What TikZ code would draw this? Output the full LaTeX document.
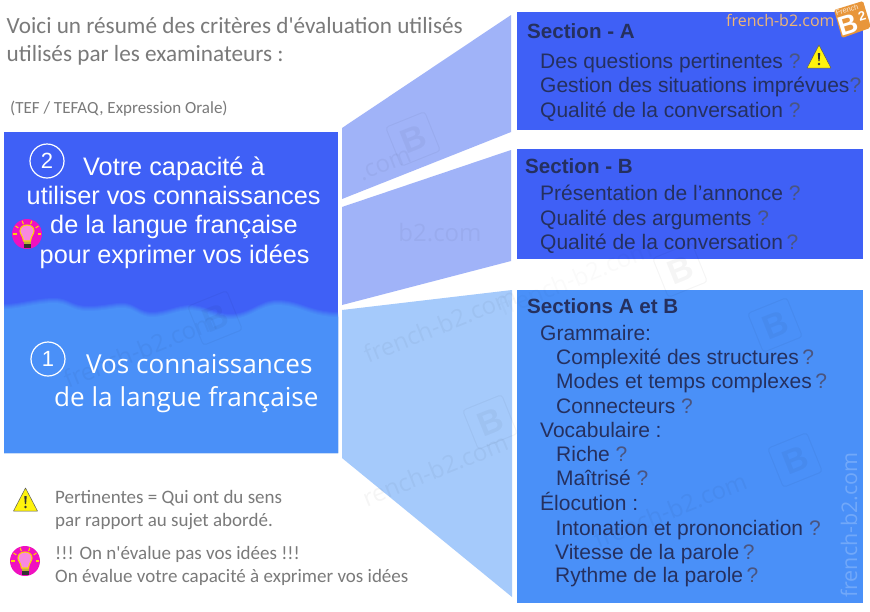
\documentclass[tikz,border=0pt]{standalone}
\usepackage{fontspec}
\setmainfont{Liberation Sans}
\newfontfamily\calfont{Carlito}
\newfontfamily\opfont{Open Sans}
\usetikzlibrary{shapes.geometric}
\definecolor{darkblue}{HTML}{3F60F6}
\definecolor{lightblue}{HTML}{4A90F8}
\definecolor{fandark}{HTML}{A0B3F8}
\definecolor{fanlight}{HTML}{A5CAFB}
\definecolor{itemtext}{HTML}{25305F}
\definecolor{grayq}{HTML}{4A5580}
\definecolor{greytext}{HTML}{7A7A7A}
\definecolor{logoorange}{HTML}{E8963A}
\definecolor{bulbpink}{HTML}{F010C0}
\newcommand{\qm}{{\color{grayq}?}}
\tikzset{
  headtext/.style={anchor=base west,inner sep=0pt,text=greytext,font=\calfont\fontsize{23.2}{23.2}\selectfont},
  smalltext/.style={anchor=base west,inner sep=0pt,text=greytext,font=\calfont\fontsize{17}{17}\selectfont},
  legendtext/.style={anchor=base west,inner sep=0pt,text=greytext,font=\calfont\fontsize{19}{19}\selectfont},
  bigtext/.style={anchor=base west,inner sep=0pt,text=white,font=\fontsize{25.3}{25.3}\selectfont},
  softtext/.style={anchor=base west,inner sep=0pt,text=white,font=\opfont\fontsize{26.1}{26.1}\selectfont},
  secttitle/.style={anchor=base west,inner sep=0pt,text=itemtext,font=\bfseries\fontsize{20.6}{20.6}\selectfont},
  itemline/.style={anchor=base west,inner sep=0pt,text=itemtext,font=\fontsize{21}{21}\selectfont},
  numcircle/.style={circle,draw=white,line width=1.2pt,minimum size=34pt,inner sep=0pt,text=white,font=\fontsize{22}{22}\selectfont},
  wmark/.style={rotate=22,text=black,opacity=0.04,font=\opfont\fontsize{24}{24}\selectfont},
  wlogo/.style={rotate=22,draw=black,opacity=0.04,line width=1pt,rounded corners=3pt,minimum size=42pt,inner sep=0pt,text=black,font=\bfseries\fontsize{34}{34}\selectfont},
  warnsign/.pic={
    \fill[yellow!95!white,draw=black!65,line width=0.5pt,line join=round] (-12,10) -- (0,-13) -- (12,10) -- cycle;
    \fill[black!80] (-1.2,-5) -- (1.2,-5) -- (0.6,3) -- (-0.6,3) -- cycle;
    \fill[black!80] (0,6) circle (1.3);
  },
  bulbsign/.pic={
    \fill[bulbpink] (0,0) circle (15);
    \fill[yellow!70!black] (-3.5,7) rectangle (3.5,10);
    \fill[black!80] (-3.5,10) rectangle (3.5,14);
    \draw[yellow!70!orange,fill=bulbpink!50!white,line width=1.1pt] (-3.5,7) .. controls (-4,2) and (-7,0) .. (-7,-3) .. controls (-7,-11) and (7,-11) .. (7,-3) .. controls (7,0) and (4,2) .. (3.5,7) -- cycle;
    \foreach \a in {0,35,70,110,145,180}
      \draw[yellow!70!orange,line width=1.1pt] (\a:-10.5) -- (\a:-14);
  }
}
\begin{document}
\begin{tikzpicture}[x=1pt,y=-1pt]
\useasboundingbox (0,0) rectangle (870,611);
\fill[white] (0,0) rectangle (870,611);

% fans
\fill[fandark] (342,128) -- (511,15) -- (511,132) -- (342,199) -- cycle;
\fill[fandark] (342,207) -- (511,150) -- (511,261) -- (342,305) -- cycle;
\fill[fanlight] (342,310) -- (512,290) -- (512,597) -- (342,458) -- cycle;

% left box
\fill[darkblue] (4,132) rectangle (338,453);
\foreach \s/\o in {-3/0.2,-2/0.25,-1/0.3,0/0.4,1/0.5,2/1}
  \fill[lightblue,opacity=\o] (4,307+\s) .. controls (20,307+\s) and (35,301+\s) .. (55,301+\s)
    .. controls (68,301+\s) and (72,309+\s) .. (88,309+\s)
    .. controls (105,309+\s) and (115,305+\s) .. (125,306+\s)
    .. controls (135,307+\s) and (140,315+\s) .. (152,315+\s)
    .. controls (165,315+\s) and (178,308+\s) .. (190,308+\s)
    .. controls (205,308+\s) and (215,317+\s) .. (230,317+\s)
    .. controls (250,317+\s) and (260,303+\s) .. (277,303+\s)
    .. controls (300,303+\s) and (310,315+\s) .. (338,315+\s) -- (338,453) -- (4,453) -- cycle;

% right boxes
\fill[darkblue] (517,12) rectangle (863,130);
\fill[darkblue] (517,149) rectangle (863,259);
\fill[lightblue] (517,290) rectangle (863,603);

% watermarks
\node[wmark] (w1) at (385,165) {.com};
\node[wlogo] (w2) at (413,139) {B};
\node[wmark,rotate=-22] (w3) at (440,233) {b2.com};
\node[wmark] (w4) at (440,325) {french-b2.com};
\node[wlogo] (w5) at (490,422) {B};
\node[wmark] (w6) at (435,470) {rench-b2.com};
\node[wmark] (w7) at (140,350) {french-b2.com};
\node[wlogo] (w8) at (215,318) {B};
\node[wmark,text=black,opacity=0.02] (w9) at (575,278) {french-b2.com};
\node[wlogo] (w10) at (680,270) {B};
\node[wmark] (w11) at (670,510) {french-b2.com};
\node[wlogo] (w12) at (795,460) {B};
\node[wlogo] (w13) at (775,325) {B};
\node[text=white,opacity=0.22,rotate=90,font=\opfont\fontsize{21.5}{21.5}\selectfont] (w14) at (849,525) {french-b2.com};

% header
\node[headtext] (head1) at (6.5,33) {Voici un résumé des critères d'évaluation utilisés};
\node[headtext] (head2) at (6.5,61) {utilisés par les examinateurs :};
\node[smalltext] (tef) at (10,113) {(TEF / TEFAQ, Expression Orale)};

% capacite
\node[numcircle] (two) at (47,161) {2};
\node[bigtext] (cap1) at (83,175) {Votre capacité à};
\node[bigtext] (cap2) at (26.5,204) {utiliser vos connaissances};
\node[bigtext] (cap3) at (50,233) {de la langue française};
\node[bigtext] (cap4) at (39.5,263) {pour exprimer vos idées};
\pic at (27,234) {bulbsign};

% connaissances
\node[numcircle] (one) at (48,359) {1};
\node[softtext] (con1) at (86,373) {Vos connaissances};
\node[softtext] (con2) at (54,406) {de la langue française};

% legend
\pic at (25.5,501) {warnsign};
\node[legendtext] (leg1) at (55,503) {Pertinentes = Qui ont du sens};
\node[legendtext] (leg2) at (55,526) {par rapport au sujet abordé.};
\pic at (25,561) {bulbsign};
\node[legendtext] (leg3) at (55,559) {!!! On n'évalue pas vos idées !!!};
\node[legendtext] (leg4) at (55,582) {On évalue votre capacité à exprimer vos idées};

% section A
\node[secttitle] (sa) at (527,38.5) {Section - A};
\node[itemline] (sa1) at (540,68) {Des questions pertinentes \qm};
\pic at (819,58) {warnsign};
\node[itemline] (sa2) at (540,92) {Gestion des situations imprévues\qm};
\node[itemline] (sa3) at (540,117) {Qualité de la conversation \qm};
\node[anchor=base west,inner sep=0pt,text=logoorange!70!white,font=\opfont\fontsize{16}{16}\selectfont] (site) at (726,26) {french-b2.com};
\fill[logoorange,rounded corners=1.5pt] (834,10) -- (863,1) -- (870,24) -- (870,28) -- (842,38) -- cycle;
\node[rotate=17,text=white,inner sep=0pt,font=\bfseries\fontsize{27}{27}\selectfont] (logob) at (848,25) {B};
\node[rotate=17,text=white,inner sep=0pt,font=\bfseries\fontsize{13}{13}\selectfont] (logotwo) at (862,16) {2};
\node[rotate=17,text=white!80!logoorange,inner sep=0pt,font=\fontsize{7.5}{7.5}\selectfont] (logof) at (847,10) {French};

% section B
\node[secttitle] (sb) at (525,173.5) {Section - B};
\node[itemline] (sb1) at (540,200) {Présentation de l'annonce \qm};
\node[itemline] (sb2) at (540,225) {Qualité des arguments \qm};
\node[itemline] (sb3) at (540,249) {Qualité de la conversation\,\qm};

% sections A et B
\node[secttitle] (sc) at (527,313.5) {Sections A et B};
\node[itemline] (gr) at (540,340) {Grammaire:};
\node[itemline] (gr1) at (556,364) {Complexité des structures\,\qm};
\node[itemline] (gr2) at (556,388) {Modes et temps complexes\,\qm};
\node[itemline] (gr3) at (556,413) {Connecteurs \qm};
\node[itemline] (vo) at (540,437) {Vocabulaire :};
\node[itemline] (vo1) at (556,461) {Riche \qm};
\node[itemline] (vo2) at (556,485) {Maîtrisé \qm};
\node[itemline] (el) at (540,510) {Élocution :};
\node[itemline] (el1) at (555.5,535) {Intonation et prononciation \qm};
\node[itemline] (el2) at (555,559) {Vitesse de la parole\,\qm};
\node[itemline] (el3) at (555,582) {Rythme de la parole\,\qm};
\end{tikzpicture}
\end{document}
